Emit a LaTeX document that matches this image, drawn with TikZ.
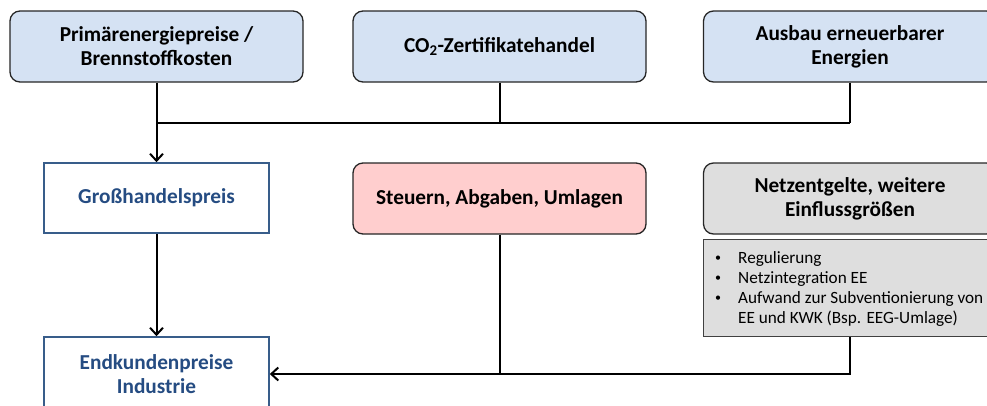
\documentclass[tikz,border=0pt]{standalone}
\usepackage{fontspec}
\setmainfont{Carlito}
\usetikzlibrary{arrows.meta}
\definecolor{boxblue}{RGB}{213,226,243}
\definecolor{boxpink}{RGB}{255,206,206}
\definecolor{boxgray}{RGB}{222,222,222}
\definecolor{darkblue}{RGB}{37,76,130}
\definecolor{borderblue}{RGB}{56,93,138}
\newcommand{\smallbul}{\makebox[24pt][l]{\hspace*{1pt}\raisebox{1.2pt}{\fontsize{12}{12}\selectfont•}}}
\begin{document}
\begin{tikzpicture}[x=1pt,y=-1pt,
  titlefont/.style={font=\fontsize{21.3}{24}\selectfont\bfseries},
  roundbox/.style={draw=black!85, line width=1.3pt, rounded corners=10pt,
    minimum width=293pt, minimum height=71pt, align=center, titlefont, inner sep=0pt},
  bluebox/.style={roundbox, fill=boxblue},
  pinkbox/.style={roundbox, fill=boxpink},
  graybox/.style={roundbox, fill=boxgray},
  pricebox/.style={draw=borderblue, line width=1.6pt, fill=white, minimum width=225pt,
    minimum height=70pt, align=center, titlefont, text=darkblue, inner sep=0pt},
  listbox/.style={draw=black!75, line width=1.3pt, fill=boxgray, minimum width=293pt,
    minimum height=97pt, inner sep=0pt},
  conn/.style={line width=2pt, black},
  arr/.style={conn, -{Straight Barb[length=7pt,width=13pt,line width=2pt]}}
]
\useasboundingbox (0,0) rectangle (987,405);

% top row
\node[bluebox] (b1) at (156.5,46.5) {Primärenergiepreise /\\Brennstoffkosten};
\node[bluebox] (b2) at (499.5,46.5) {CO\textsubscript{2}-Zertifikatehandel};
\node[bluebox] (b3) at (850,46.5) {Ausbau erneuerbarer\\Energien};

% middle row
\node[pricebox] (gh) at (156.5,198) {Großhandelspreis};
\node[pinkbox] (st) at (499.5,198.5) {Steuern, Abgaben, Umlagen};
\node[graybox] (ne) at (850,198.5) {Netzentgelte, weitere\\Einflussgrößen};

% list box
\node[listbox, anchor=north west] (list) at (703,239) {};
\node[anchor=north west, inner sep=0pt, align=left, font=\fontsize{17.2}{20}\selectfont] (listtext) at (714,251)
  {\smallbul Regulierung\\
   \smallbul Netzintegration EE\\
   \smallbul Aufwand zur Subventionierung von\\
   \hspace*{24pt}EE und KWK (Bsp. EEG-Umlage)};

% bottom
\node[pricebox, minimum height=74pt] (ek) at (156.5,374) {Endkundenpreise\\Industrie};

% connectors
\coordinate (j1) at (b1.south |- 0,123);
\coordinate (j3) at (b3.south |- 0,123);
\draw[arr] (b1.south) -- (gh.north);
\draw[conn] (j1) -- (j3);
\draw[conn] (b2.south) -- (b2.south |- j1);
\draw[conn] (b3.south) -- (j3);
\draw[arr] (gh.south) -- (ek.north);
\draw[arr] (list.south -| b3.south) |- (ek.east);
\draw[conn] (st.south) -- (st.south |- ek.east);
\end{tikzpicture}
\end{document}
